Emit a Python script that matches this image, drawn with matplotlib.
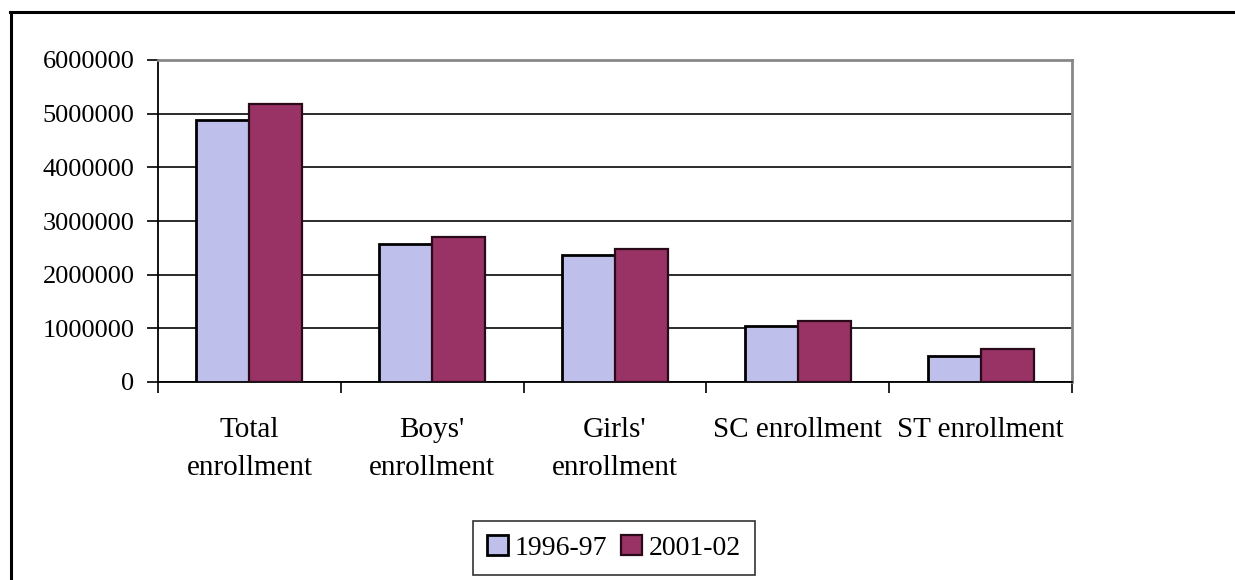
import matplotlib.pyplot as plt
from matplotlib.lines import Line2D
import numpy as np

plt.rcParams['font.family'] = ['Liberation Serif', 'DejaVu Serif']

categories = ["Total\nenrollment", "Boys'\nenrollment", "Girls'\nenrollment",
              "SC enrollment", "ST enrollment"]
enroll_9697 = [4880000, 2580000, 2360000, 1050000, 480000]
enroll_0102 = [5180000, 2710000, 2480000, 1140000, 610000]
yticks = [0, 1000000, 2000000, 3000000, 4000000, 5000000, 6000000]

fig = plt.figure(figsize=(12.35, 5.8), dpi=100)
ax = fig.add_axes([158 / 1235, 1 - 382 / 580, 914 / 1235, 322 / 580])

x = np.arange(len(categories))
w = 0.29
ax.bar(x - w / 2, enroll_9697, w, color='#bfbfeb', edgecolor='black',
       linewidth=2, zorder=3, label='1996-97')
ax.bar(x + w / 2, enroll_0102, w, color='#993366', edgecolor='#2a0a18',
       linewidth=1.6, zorder=3, label='2001-02')

ax.set_xlim(-0.5, len(categories) - 0.5)
ax.set_ylim(0, 6000000)
ax.set_yticks(yticks)
ax.set_yticklabels([str(v) for v in yticks], fontsize=19)
ax.yaxis.grid(True, color='#1a1a1a', linewidth=1.3, zorder=0)
ax.set_axisbelow(True)

# category labels in the middle, ticks between the groups
ax.set_xticks(np.arange(-0.5, len(categories), 1.0))
ax.set_xticklabels([])
ax.set_xticks(x, minor=True)
ax.set_xticklabels(categories, minor=True, fontsize=21, linespacing=1.6)
ax.tick_params(axis='x', which='minor', length=0, pad=25)
ax.tick_params(axis='x', which='major', length=8, width=1.2, direction='out')
ax.tick_params(axis='y', length=8, width=1.2, pad=9)

for s in ['top', 'right']:
    ax.spines[s].set_color('#888888')
    ax.spines[s].set_linewidth(2)
for s in ['left', 'bottom']:
    ax.spines[s].set_color('black')
    ax.spines[s].set_linewidth(1.3)

leg = fig.legend(loc='center', bbox_to_anchor=(614 / 1235, 1 - 548 / 580),
                 ncol=2, fontsize=20, frameon=True, fancybox=False,
                 handlelength=0.75, handleheight=0.75, handletextpad=0.25,
                 columnspacing=0.5, borderpad=0.5, borderaxespad=0)
leg.get_frame().set_edgecolor('black')
leg.get_frame().set_linewidth(1.2)

# outer frame (top and left)
fig.add_artist(Line2D([10 / 1235, 1], [1 - 12 / 580, 1 - 12 / 580],
                      color='black', linewidth=2.2, transform=fig.transFigure))
fig.add_artist(Line2D([11 / 1235, 11 / 1235], [0, 1 - 12 / 580],
                      color='black', linewidth=2.2, transform=fig.transFigure))

fig.savefig('out.png', dpi=100)
